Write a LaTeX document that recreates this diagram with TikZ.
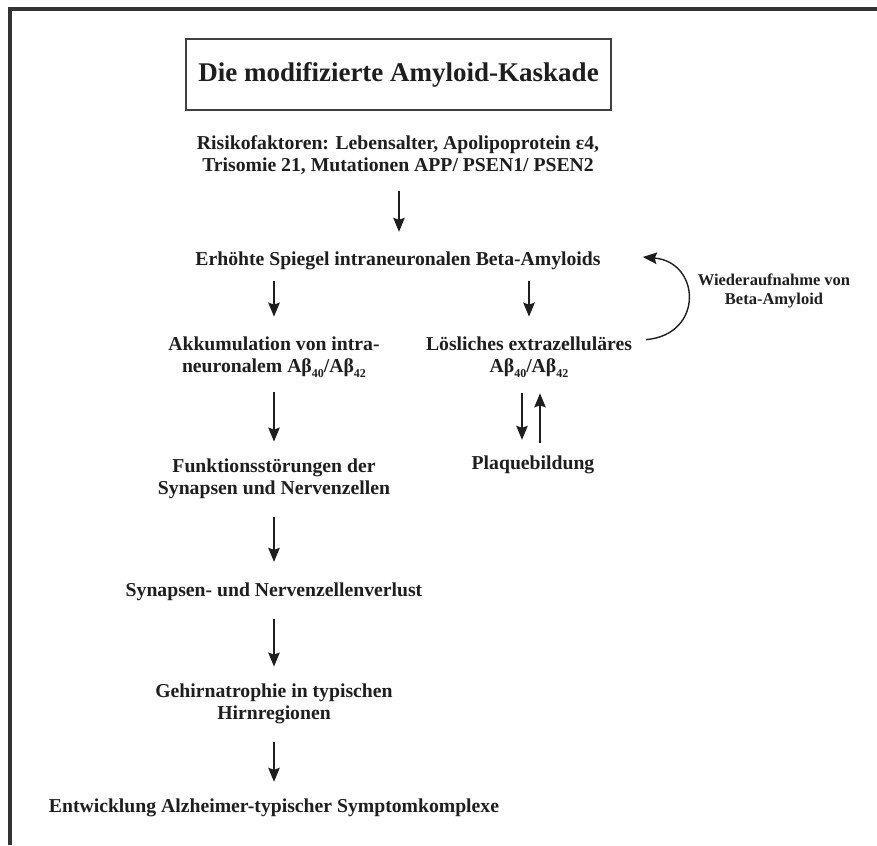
\documentclass[tikz,border=0pt]{standalone}
\usepackage{fontspec}
\setmainfont{Liberation Serif}
\usetikzlibrary{arrows.meta,calc}
\definecolor{ink}{HTML}{1E1E1E}
\newcommand{\mysub}[1]{\raisebox{-0.45ex}{\fontsize{12}{12}\selectfont #1}}
\begin{document}
\begin{tikzpicture}[x=1pt,y=-1pt,
  txt/.style={font=\fontsize{19.7}{22.5}\selectfont\bfseries, align=center, inner sep=0pt, text=ink},
  small/.style={font=\fontsize{16.5}{19}\selectfont\bfseries, align=center, inner sep=0pt, text=ink},
  arr/.style={-{Stealth[length=14pt,width=11.5pt,inset=2pt]}, line width=1.4pt, draw=ink},
]
\useasboundingbox (0,0) rectangle (877,845);
\draw[line width=3.5pt, draw=black!80] (877,9) -- (10,9) -- (10,845);

\node[draw=black!75, line width=1.3pt, minimum width=425pt, minimum height=71pt, inner sep=0pt,
      font=\fontsize{27}{30}\selectfont\bfseries, text=ink] (title) at (398.5,74.5) {Die modifizierte Amyloid-Kaskade};

\node[txt] (risk) at (398,155) {Risikofaktoren: Lebensalter, Apolipoprotein ε4,\\Trisomie 21, Mutationen APP/ PSEN1/ PSEN2};
\node[txt] (erh) at (398,261) {Erhöhte Spiegel intraneuronalen Beta-Amyloids};
\node[txt] (akk) at (274,357) {Akkumulation von intra-\\neuronalem Aβ\mysub{40}/Aβ\mysub{42}};
\node[txt] (los) at (529,357) {Lösliches extrazelluläres\\Aβ\mysub{40}/Aβ\mysub{42}};
\node[small] (wied) at (774,291) {Wiederaufnahme von\\Beta-Amyloid};
\node[txt] (funk) at (274,479) {Funktionsstörungen der\\Synapsen und Nervenzellen};
\node[txt] (plaq) at (533,465) {Plaquebildung};
\node[txt] (syn) at (274,592) {Synapsen- und Nervenzellenverlust};
\node[txt] (geh) at (274,704) {Gehirnatrophie in typischen\\Hirnregionen};
\node[txt] (ent) at (274,808) {Entwicklung Alzheimer-typischer Symptomkomplexe};

\draw[arr, shorten <=16pt, shorten >=20pt] ([xshift=1pt]risk.south) -- ([xshift=1pt]erh.north);
\draw[arr, shorten <=11pt, shorten >=20pt] (erh.south -| akk.north) -- (akk.north);
\draw[arr, shorten <=11pt, shorten >=20pt] (erh.south -| los.north) -- (los.north);
\draw[arr, shorten <=15pt, shorten >=17pt] (akk.south) -- (funk.north);
\draw[arr, shorten <=16pt, shorten >=16pt] ([xshift=-7pt]los.south) -- ([xshift=-7pt]los.south |- plaq.north);
\draw[arr, shorten <=13pt, shorten >=16pt] ([xshift=11pt]los.south |- plaq.north) -- ([xshift=11pt]los.south);
\draw[arr, shorten <=18pt, shorten >=21pt] (funk.south) -- (syn.north);
\draw[arr, shorten <=18pt, shorten >=17pt] (syn.south) -- (geh.north);
\draw[arr, shorten <=18pt, shorten >=17pt] (geh.south) -- (ent.north);
\draw[arr] ($(los.north east)+(14,3)$) to[out=5, in=-5, looseness=1.8] ($(erh.east)+(42,-4)$);
\end{tikzpicture}
\end{document}
